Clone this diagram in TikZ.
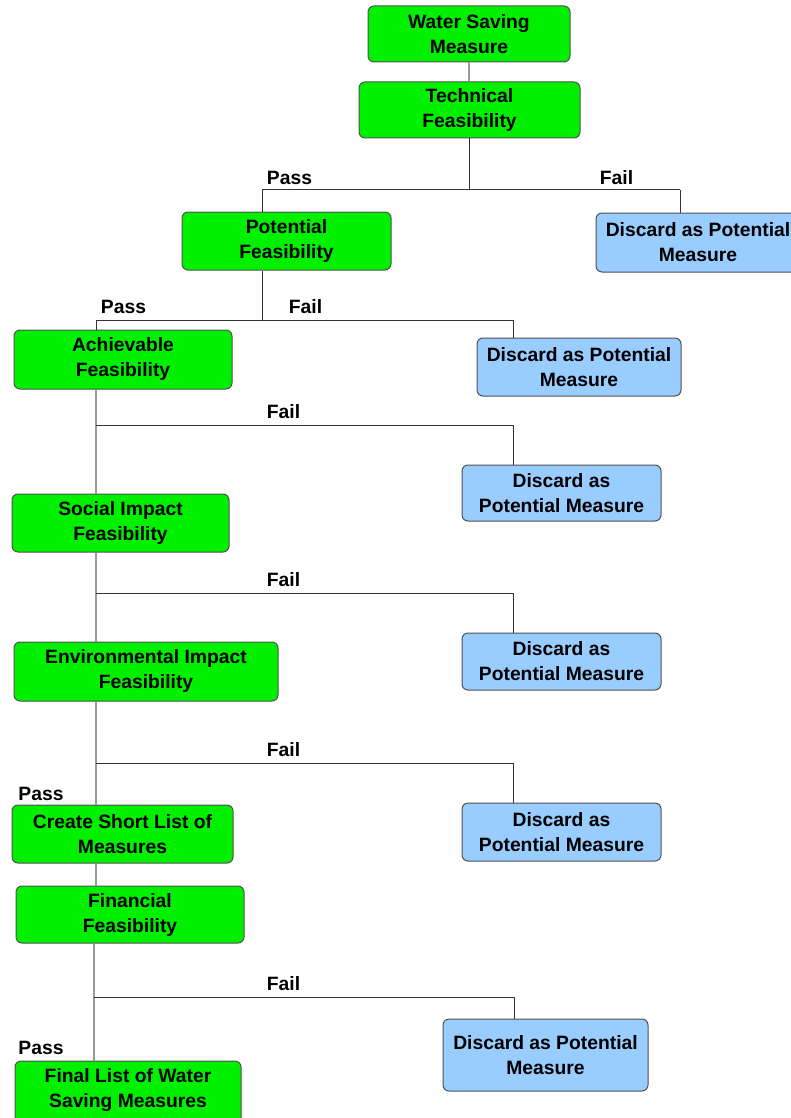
\documentclass[tikz,border=0pt]{standalone}
\usepackage{fontspec}
\setmainfont{Liberation Sans}
\definecolor{boxgreen}{HTML}{00F000}
\definecolor{boxblue}{HTML}{99CCFF}
\definecolor{boxedge}{HTML}{505050}
\definecolor{mainln}{HTML}{9A9A9A}
\definecolor{branchln}{HTML}{333333}
\begin{document}
\begin{tikzpicture}[x=1pt,y=-1pt,
  box/.style={rounded corners=6pt, draw=boxedge, line width=1pt, align=center,
    inner sep=0pt, font=\bfseries\fontsize{19.3}{25}\selectfont},
  gbox/.style={box, fill=boxgreen},
  bbox/.style={box, fill=boxblue},
  mline/.style={draw=mainln, line width=1.2pt},
  bline/.style={draw=branchln, line width=1pt},
  lab/.style={inner sep=0pt, font=\bfseries\fontsize{19.3}{22}\selectfont}]
\useasboundingbox[fill=white] (0,0) rectangle (791,1118);

% nodes
\node[gbox, minimum width=202pt, minimum height=56pt] (ws) at (469,34) {Water Saving\\Measure};
\node[gbox, minimum width=221pt, minimum height=56pt] (tech) at (469.5,110) {Technical\\Feasibility};
\node[gbox, minimum width=209pt, minimum height=58pt] (pot) at (286.5,241) {Potential\\Feasibility};
\node[bbox, minimum width=204pt, minimum height=59pt] (d1) at (698,242.5) {Discard as Potential\\Measure};
\node[gbox, minimum width=218pt, minimum height=59pt] (ach) at (123,359.5) {Achievable\\Feasibility};
\node[bbox, minimum width=204pt, minimum height=58pt] (d2) at (579,367) {Discard as Potential\\Measure};
\node[gbox, minimum width=217pt, minimum height=58pt] (soc) at (120.5,523) {Social Impact\\Feasibility};
\node[bbox, minimum width=199pt, minimum height=56pt] (d3) at (561.5,493) {Discard as\\Potential Measure};
\node[gbox, minimum width=264pt, minimum height=59pt] (env) at (146,671.5) {Environmental Impact\\Feasibility};
\node[bbox, minimum width=199pt, minimum height=57pt] (d4) at (561.5,661.5) {Discard as\\Potential Measure};
\node[gbox, minimum width=221pt, minimum height=58pt] (csl) at (122.5,834) {Create Short List of\\Measures};
\node[bbox, minimum width=199pt, minimum height=58pt] (d5) at (561.5,832) {Discard as\\Potential Measure};
\node[gbox, minimum width=228pt, minimum height=57pt] (fin) at (130,914.5) {Financial\\Feasibility};
\node[bbox, minimum width=205pt, minimum height=72pt] (d6) at (545.5,1055) {Discard as Potential\\Measure};
\node[gbox, minimum width=226pt, minimum height=74pt, text depth=20pt] (fl) at (128,1098) {Final List of Water\\Saving Measures};

% labels
\node[lab] (l1) at (289.5,178) {Pass};
\node[lab] (l2) at (616.5,178) {Fail};
\node[lab] (l3) at (123.5,307) {Pass};
\node[lab] (l4) at (305.5,307) {Fail};
\node[lab] (l5) at (283.5,412) {Fail};
\node[lab] (l6) at (283.5,580) {Fail};
\node[lab] (l7) at (283.5,750) {Fail};
\node[lab] (l8) at (41,794) {Pass};
\node[lab] (l9) at (283.5,984) {Fail};
\node[lab] (l10) at (41,1048) {Pass};

% junction coordinates
\coordinate (j1) at (469.5,190);
\coordinate (p1) at (262,190);
\coordinate (f1) at (680,190);
\coordinate (j2) at (262,320);
\coordinate (p2) at (96,320);
\coordinate (f2) at (513,320);
\coordinate (j3) at (96,425);
\coordinate (f3) at (513,425);
\coordinate (j4) at (96,593);
\coordinate (f4) at (513,593);
\coordinate (j5) at (96,763);
\coordinate (f5) at (513,763);
\coordinate (j6) at (94,997);
\coordinate (f6) at (514,997);

% connectors
\draw[mline] (ws.south) -- (ws.south |- tech.north);
\draw[bline] (tech.south) -- (j1);
\draw[bline] (p1) -- (f1);
\draw[bline] (p1) -- (p1 |- pot.north);
\draw[bline] (f1) -- (f1 |- d1.north);

\draw[bline] (j2 |- pot.south) -- (j2);
\draw[bline] (p2) -- (f2);
\draw[bline] (p2) -- (p2 |- ach.north);
\draw[bline] (f2) -- (f2 |- d2.north);

\draw[mline] (j3 |- ach.south) -- (j3 |- soc.north);
\draw[bline] (j3) -- (f3) -- (f3 |- d3.north);

\draw[mline] (j4 |- soc.south) -- (j4 |- env.north);
\draw[bline] (j4) -- (f4) -- (f4 |- d4.north);

\draw[mline] (j5 |- env.south) -- (j5 |- csl.north);
\draw[bline] (j5) -- (f5) -- (f5 |- d5.north);

\draw[mline] (j5 |- csl.south) -- (j5 |- fin.north);

\draw[mline] (j6 |- fin.south) -- (j6 |- fl.north);
\draw[bline] (j6) -- (f6) -- (f6 |- d6.north);
\end{tikzpicture}
\end{document}
